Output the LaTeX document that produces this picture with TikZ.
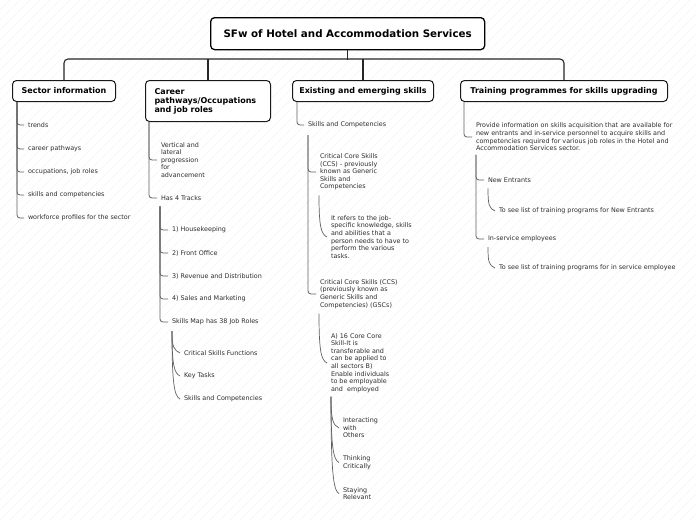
\documentclass[tikz,border=0pt]{standalone}
\usepackage{fontspec}
\setmainfont{DejaVu Sans}
\usetikzlibrary{calc}
\newcommand\mycurve[2]{\draw[curvy] (#1) .. controls ($(#1)!0.75!(#1 |- #2)$) and ($(#2)+(-6,-3)$) .. (#2);}
\begin{document}
\begin{tikzpicture}[x=1pt,y=-1pt,
  titlebox/.style={draw=black, line width=1.3pt, rounded corners=4pt, fill=white, font=\fontsize{10.3}{12}\selectfont\bfseries, inner sep=0pt, anchor=north west},
  topicbox/.style={draw=black!90, line width=1pt, rounded corners=4pt, fill=white, font=\fontsize{8}{9}\selectfont\bfseries, inner sep=0pt, anchor=north west},
  leaf/.style={anchor=west, inner sep=0pt, outer xsep=4pt, outer ysep=0pt, font=\fontsize{6.4}{7.6}\selectfont, text=black!82, align=left},
  bus/.style={draw=black!85, line width=1.1pt, rounded corners=4pt},
  tree/.style={draw=black!62, line width=0.8pt, rounded corners=3pt},
  curvy/.style={draw=black!62, line width=0.7pt},
]
% background with faint hatching
\fill[white] (0,0) rectangle (696,520);
\begin{scope}
\clip (0,0) rectangle (696,520);
\foreach \i in {-520,-510,...,700} \draw[black!7, line width=0.3pt] (\i,520) -- ++(520,-520);
\end{scope}
\useasboundingbox (0,0) rectangle (696,520);

% main boxes
\node[titlebox, minimum width=274, minimum height=32] (title) at (210,17) {SFw of Hotel and Accommodation Services};
\node[topicbox, minimum width=103, minimum height=21] (sec) at (12,80) {Sector information};
\node[topicbox, minimum width=125, minimum height=41, text width=107, inner xsep=9, align=left] (car) at (145,80) {Career\\pathways/Occupations\\and job roles};
\node[topicbox, minimum width=141, minimum height=21] (ex) at (292,80) {Existing and emerging skills};
\node[topicbox, minimum width=207, minimum height=21] (tr) at (460,80) {Training programmes for skills upgrading};

% bus
\draw[bus] (sec.north) -- ++(0,-21) -| (tr.north);
\draw[bus] (title.south) -- ++(0,10);
\draw[bus] (car.north) -- ++(0,-21);
\draw[bus] (ex.north) -- ++(0,-21);

% Sector information
\node[leaf] (s1) at (24,125) {trends};
\node[leaf] (s2) at (24,149) {career pathways};
\node[leaf] (s3) at (24,172) {occupations, job roles};
\node[leaf] (s4) at (24,195) {skills and competencies};
\node[leaf] (s5) at (24,218) {workforce profiles for the sector};
\foreach \n in {s1,s2,s3,s4,s5} \draw[tree] ($(sec.south west)+(5,0)$) |- (\n.west);

% Career pathways
\node[leaf] (c1) at (157,160) {Vertical and\\lateral\\progression\\for\\advancement};
\node[leaf] (c2) at (157,198) {Has 4 Tracks};
\foreach \n in {c1,c2} \draw[tree] ($(car.south west)+(4,0)$) |- (\n.west);
\node[leaf] (h1) at (168,230) {1) Housekeeping};
\node[leaf] (h2) at (168,253) {2) Front Office};
\node[leaf] (h3) at (168,276) {3) Revenue and Distribution};
\node[leaf] (h4) at (168,299) {4) Sales and Marketing};
\node[leaf] (h5) at (168,322) {Skills Map has 38 Job Roles};
\foreach \n in {h1,h2,h3,h4,h5} \draw[tree] ($(c2.south west)+(3,6)$) |- (\n.west);
\node[leaf] (m1) at (180,353) {Critical Skills Functions};
\node[leaf] (m2) at (180,376) {Key Tasks};
\node[leaf] (m3) at (180,399) {Skills and Competencies};
\coordinate (mapv) at ($(h5.south west)+(4,6)$);
\mycurve{mapv}{m1.west}
\mycurve{mapv}{m2.west}
\mycurve{mapv}{m3.west}

% Existing and emerging skills
\node[leaf] (e1) at (304,125) {Skills and Competencies};
\draw[tree] ($(ex.south west)+(5,0)$) |- (e1.west);
\node[leaf] (e2) at (316,172) {Critical Core Skills\\(CCS) - previously\\known as Generic\\Skills and\\Competencies};
\node[leaf] (e3) at (316,294) {Critical Core Skills (CCS)\\(previously known as\\Generic Skills and\\Competencies) (GSCs)};
\foreach \n in {e2,e3} \draw[tree] ($(e1.south west)+(4,7)$) |- (\n.west);
\node[leaf] (e4) at (327,237) {It refers to the job-\\specific knowledge, skills\\and abilities that a\\person needs to have to\\perform the various\\tasks.};
\coordinate (e2v) at ($(e2.south west)+(3,5)$);
\mycurve{e2v}{e4.west}
\node[leaf] (e5) at (327,363) {A) 16 Core Core\\Skill-It is\\transferable and\\can be applied to\\all sectors B)\\Enable individuals\\to be employable\\and~ employed};
\coordinate (e3v) at ($(e3.south west)+(3,5)$);
\mycurve{e3v}{e5.west}
\node[leaf] (g1) at (339,428) {Interacting\\with\\Others};
\node[leaf] (g2) at (339,462.5) {Thinking\\Critically};
\node[leaf] (g3) at (339,493.5) {Staying\\Relevant};
\coordinate (e5v) at ($(e5.south west)+(4,4)$);
\mycurve{e5v}{g1.west}
\mycurve{e5v}{g2.west}
\mycurve{e5v}{g3.west}

% Training programmes
\node[leaf] (t1) at (472,137) {Provide information on skills acquisition that are available for\\new entrants and in-service personnel to acquire skills and\\competencies required for various job roles in the Hotel and\\Accommodation Services sector.};
\draw[tree] ($(tr.south west)+(4,0)$) |- (t1.west);
\node[leaf] (t2) at (484,180) {New Entrants};
\node[leaf] (t3) at (484,239) {In-service employees};
\foreach \n in {t2,t3} \draw[tree] ($(t1.south west)+(4,4)$) |- (\n.west);
\node[leaf] (t4) at (495,211) {To see list of training programs for New Entrants};
\node[leaf] (t5) at (495,268) {To see list of training programs for in service employee};
\coordinate (t2v) at ($(t2.south west)+(4,6)$);
\mycurve{t2v}{t4.west}
\coordinate (t3v) at ($(t3.south west)+(4,5)$);
\mycurve{t3v}{t5.west}
\end{tikzpicture}
\end{document}
